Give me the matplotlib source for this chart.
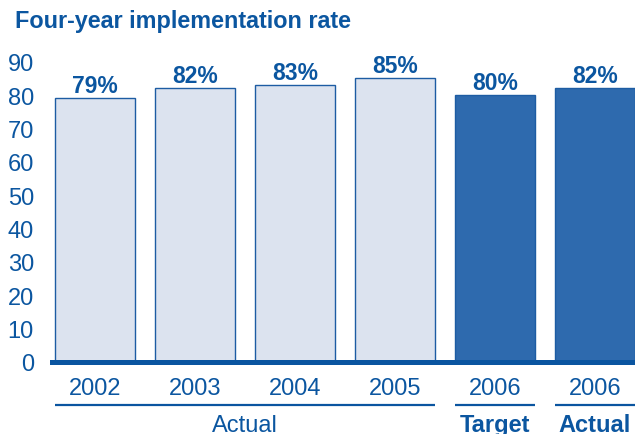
import matplotlib
matplotlib.use("Agg")
import matplotlib.pyplot as plt
from matplotlib import transforms

plt.rcParams['font.family'] = ['Liberation Sans', 'DejaVu Sans']

# Data
years = ["2002", "2003", "2004", "2005", "2006", "2006"]
rates = [79, 82, 83, 85, 80, 82]
kinds = ["actual", "actual", "actual", "actual", "target", "actual06"]
groups = [("Actual", 0, 3, "normal"), ("Target", 4, 4, "bold"), ("Actual", 5, 5, "bold")]
yticks = [0, 10, 20, 30, 40, 50, 60, 70, 80, 90]

TEXT = "#0b56a0"
LIGHT = "#dce3ef"
DARK = "#2e6aae"
EDGE = "#1d5ca3"
BASE = "#0a55a0"

W, H = 635, 435
fig = plt.figure(figsize=(W / 100, H / 100), dpi=100)
left, right, y0, ytop = 52, 635, 363, 46
ax = fig.add_axes([left / W, (H - y0) / H, (right - left) / W, (y0 - ytop) / H])

xs = list(range(len(rates)))
colors = [LIGHT if k == "actual" else DARK for k in kinds]
bars = ax.bar(xs, rates, width=0.8, color=colors, edgecolor=EDGE, linewidth=1.0, zorder=2)

for x, v in zip(xs, rates):
    ax.annotate(f"{v}%", (x, v), xytext=(0, 4.5), textcoords="offset points",
                ha="center", va="baseline", fontsize=16.5, fontweight="bold",
                color=TEXT, annotation_clip=False)

ax.set_xlim(-0.43, 5.4)
ax.set_ylim(0, 95)
ax.set_yticks(yticks)
ax.set_yticklabels([str(t) for t in yticks])
ax.set_xticks(xs)
ax.set_xticklabels(years)
ax.tick_params(axis="y", length=0, pad=13, labelsize=17, labelcolor=TEXT)
ax.tick_params(axis="x", length=0, pad=10.5, labelsize=17, labelcolor=TEXT)

for s in ["top", "right", "left"]:
    ax.spines[s].set_visible(False)
ax.spines["bottom"].set_color(BASE)
ax.spines["bottom"].set_linewidth(3.6)
ax.spines["bottom"].set_zorder(3)

# Group brackets and labels below the year labels
tr = transforms.blended_transform_factory(ax.transData, fig.transFigure)
line_y = (H - 406) / H
label_y = (H - 432) / H
for name, i0, i1, weight in groups:
    ax.plot([i0 - 0.4, i1 + 0.4], [line_y, line_y], transform=tr, color=BASE,
            linewidth=1.6, clip_on=False, solid_capstyle="butt")
    ax.text((i0 + i1) / 2, label_y, name, transform=tr, ha="center", va="baseline",
            fontsize=17, fontweight=weight, color=TEXT, clip_on=False)

fig.text(15 / W, (H - 28) / H, "Four-year implementation rate", ha="left", va="baseline",
         fontsize=16.8, fontweight="bold", color=TEXT)

fig.savefig("out.png", dpi=100)
